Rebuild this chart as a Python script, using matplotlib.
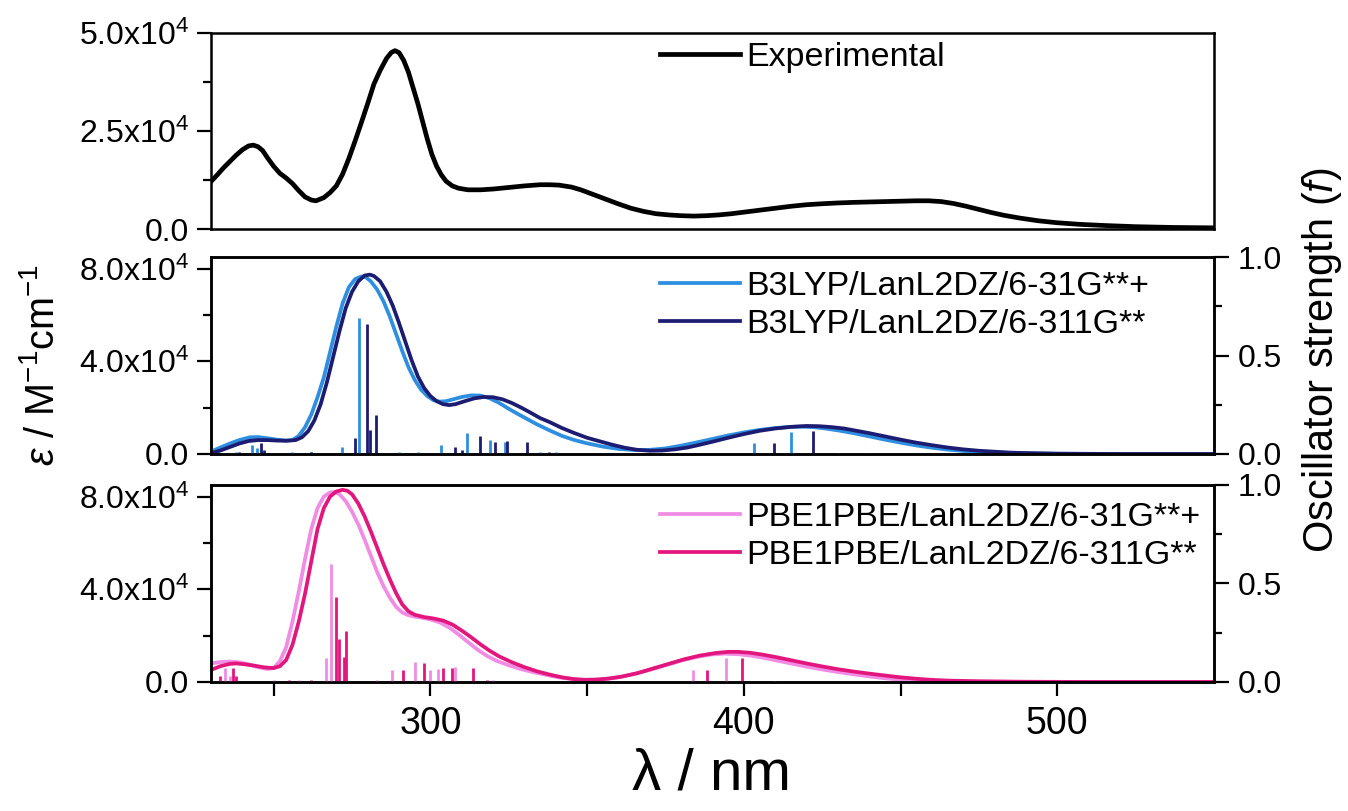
import matplotlib
matplotlib.use('Agg')
import matplotlib.pyplot as plt
from matplotlib.ticker import FixedLocator

plt.rcParams['font.family'] = ['Liberation Sans', 'DejaVu Sans']
plt.rcParams['mathtext.fontset'] = 'custom'
plt.rcParams['mathtext.rm'] = 'Liberation Sans'
plt.rcParams['mathtext.it'] = 'Liberation Sans:italic'

# === DATA =====================================================================
# experimental spectrum (epsilon in units of 1e4 M^-1 cm^-1)
expWl = [230, 232, 234, 236, 238, 240, 242, 243.5, 245, 246.5, 248, 250, 252, 254, 256,
         258, 260, 262, 263.5, 266, 268, 270, 272, 274, 276, 278, 280, 282, 284, 286,
         287.5, 288.7, 290, 291.5, 293, 294.5, 296, 297.5, 299, 300.5, 302, 303.5, 305, 307,
         309, 312, 316, 320, 325, 330, 335, 338, 341, 345, 348, 352, 356, 360, 364, 368,
         372, 376, 380, 384, 388, 392, 396, 400, 405, 410, 415, 420, 425, 430, 435, 440,
         445, 450, 455, 459, 463, 467, 471, 475, 479, 483, 488, 494, 500, 507, 515, 525,
         537, 550]
expEps = [1.21, 1.38, 1.56, 1.72, 1.88, 2.02, 2.12, 2.14, 2.1, 2.0, 1.82, 1.6, 1.42, 1.3, 1.16,
          0.98, 0.82, 0.74, 0.72, 0.8, 0.93, 1.1, 1.4, 1.8, 2.25, 2.72, 3.2, 3.7, 4.05, 4.35,
          4.5, 4.55, 4.5, 4.3, 4.0, 3.6, 3.2, 2.75, 2.3, 1.9, 1.6, 1.38, 1.22, 1.1,
          1.04, 1.0, 1.0, 1.02, 1.06, 1.1, 1.13, 1.13, 1.12, 1.07, 1.0, 0.88, 0.76, 0.64, 0.53, 0.45,
          0.39, 0.36, 0.34, 0.33, 0.34, 0.36, 0.39, 0.43, 0.48, 0.53, 0.58, 0.62, 0.645, 0.665, 0.68, 0.69,
          0.7, 0.71, 0.72, 0.72, 0.7, 0.65, 0.58, 0.5, 0.42, 0.35, 0.28, 0.21, 0.16, 0.12, 0.09, 0.06,
          0.04, 0.03]

# B3LYP/LanL2DZ/6-31G**+
b3aWl = [230, 233, 236, 239, 242.4, 245, 248, 251, 254, 256, 258, 260, 262, 264, 266, 268,
         270, 272, 274, 276, 278, 279.5, 281, 283, 285, 287, 289, 291, 293, 295, 297, 299,
         301, 303, 305, 307, 310, 313, 316, 319, 322, 325, 328, 331, 334, 338, 342, 346,
         350, 355, 360, 365, 370, 375, 380, 385, 390, 395, 400, 405, 410, 415, 418, 422,
         426, 430, 435, 440, 445, 450, 455, 460, 465, 470, 475, 480, 490, 500, 520, 550]
b3aEps = [0.1, 0.28, 0.45, 0.6, 0.72, 0.73, 0.68, 0.62, 0.58, 0.6, 0.78, 1.15, 1.7, 2.45, 3.3, 4.4,
          5.5, 6.5, 7.2, 7.55, 7.66, 7.62, 7.45, 7.1, 6.6, 5.95, 5.2, 4.45, 3.75, 3.2, 2.78, 2.5,
          2.32, 2.26, 2.28, 2.35, 2.46, 2.53, 2.52, 2.4, 2.2, 1.95, 1.72, 1.5, 1.28, 1.02, 0.78, 0.6,
          0.46, 0.32, 0.22, 0.17, 0.18, 0.24, 0.36, 0.5, 0.65, 0.8, 0.93, 1.04, 1.12, 1.17, 1.18, 1.16,
          1.1, 1.02, 0.9, 0.76, 0.62, 0.49, 0.37, 0.27, 0.19, 0.13, 0.09, 0.06, 0.03, 0.01, 0.0, 0.0]
# B3LYP/LanL2DZ/6-311G**
b3bWl = [230, 233, 236, 239, 242, 245, 248, 251, 254, 257, 259, 261, 263, 265, 267, 269,
         271, 273, 275, 277, 279, 280.7, 282, 284, 286, 288, 290, 292, 294, 296, 298, 300,
         302, 304, 306, 308, 311, 314, 317, 320, 323, 326, 329, 332, 335, 338, 342, 346,
         350, 354, 358, 362, 366, 370, 374, 378, 382, 386, 390, 395, 400, 405, 410, 415,
         420, 424, 428, 432, 436, 440, 445, 450, 455, 460, 465, 470, 475, 480, 485, 490,
         500, 520, 550]
b3bEps = [0.03, 0.15, 0.3, 0.45, 0.56, 0.6, 0.6, 0.58, 0.57, 0.6, 0.72, 0.98, 1.45, 2.15, 3.1, 4.2,
          5.3, 6.3, 7.0, 7.45, 7.7, 7.74, 7.68, 7.45, 7.0, 6.4, 5.65, 4.85, 4.05, 3.35, 2.85, 2.5,
          2.28, 2.15, 2.11, 2.15, 2.28, 2.4, 2.46, 2.45, 2.36, 2.2, 2.0, 1.78, 1.55, 1.38, 1.12, 0.9,
          0.7, 0.55, 0.4, 0.27, 0.18, 0.14, 0.15, 0.2, 0.28, 0.4, 0.53, 0.7, 0.86, 1.0, 1.1, 1.17,
          1.21, 1.2, 1.16, 1.1, 1.0, 0.9, 0.76, 0.62, 0.49, 0.38, 0.28, 0.2, 0.14, 0.1, 0.06, 0.04,
          0.015, 0.0, 0.0]

# PBE1PBE/LanL2DZ/6-31G**+
pbaWl = [230, 233, 236, 239, 242, 245, 248, 250, 252, 254, 256, 258, 260, 262, 264, 266,
         268, 269.5, 271, 273, 275, 277, 279, 281, 283, 285, 287, 289, 291, 293, 295, 297,
         300, 303, 306, 309, 312, 315, 318, 321, 325, 329, 333, 337, 341, 345, 348, 352,
         356, 360, 365, 370, 375, 380, 385, 390, 394, 398, 402, 406, 410, 415, 420, 425,
         430, 435, 440, 445, 450, 455, 460, 470, 490, 550]
pbaEps = [0.8, 0.86, 0.88, 0.85, 0.76, 0.64, 0.56, 0.6, 0.9, 1.5, 2.6, 3.9, 5.3, 6.6, 7.5, 8.0,
          8.18, 8.2, 8.1, 7.8, 7.35, 6.8, 6.15, 5.45, 4.75, 4.15, 3.65, 3.25, 3.0, 2.88, 2.82, 2.78,
          2.7, 2.57, 2.35, 2.05, 1.72, 1.4, 1.13, 0.92, 0.72, 0.55, 0.42, 0.3, 0.2, 0.13, 0.1, 0.1,
          0.13, 0.2, 0.34, 0.52, 0.72, 0.92, 1.08, 1.19, 1.22, 1.2, 1.14, 1.05, 0.94, 0.8, 0.66, 0.54,
          0.43, 0.33, 0.24, 0.16, 0.1, 0.06, 0.04, 0.02, 0.0, 0.0]
# PBE1PBE/LanL2DZ/6-311G**
pbbWl = [230, 233, 236, 238, 241, 244, 247, 250, 252, 254, 256, 258, 260, 262, 264, 266,
         268, 270, 272, 273.5, 275, 277, 279, 281, 283, 285, 287, 289, 291, 293, 295, 298,
         301, 304, 307, 310, 313, 316, 319, 322, 326, 330, 334, 338, 342, 346, 349, 353,
         357, 361, 366, 371, 376, 381, 386, 391, 395, 398, 402, 406, 410, 415, 420, 425,
         430, 435, 440, 445, 450, 455, 460, 465, 475, 490, 510, 550]
pbbEps = [0.52, 0.68, 0.78, 0.8, 0.76, 0.7, 0.63, 0.6, 0.68, 0.95, 1.6, 2.6, 3.8, 5.2, 6.6, 7.5,
          8.0, 8.22, 8.29, 8.25, 8.1, 7.7, 7.15, 6.5, 5.8, 5.1, 4.45, 3.85, 3.35, 3.05, 2.9, 2.8,
          2.74, 2.65, 2.48, 2.22, 1.93, 1.62, 1.34, 1.1, 0.85, 0.64, 0.46, 0.32, 0.2, 0.12, 0.09, 0.1,
          0.15, 0.23, 0.38, 0.58, 0.78, 0.98, 1.14, 1.25, 1.3, 1.3, 1.26, 1.18, 1.08, 0.94, 0.8, 0.67,
          0.55, 0.45, 0.36, 0.28, 0.2, 0.14, 0.09, 0.06, 0.03, 0.01, 0.0, 0.0]

# oscillator strengths (sticks)
b3aStickWl = [237.9, 243, 244.6, 256, 262, 271.7, 277.2, 290, 296, 303.3, 311.6, 319, 323.8,
              335, 340, 403.3, 414.9, 430, 440]
b3aStickF = [0.01, 0.046, 0.03, 0.01, 0.008, 0.037, 0.69, 0.01, 0.008, 0.046, 0.106, 0.07, 0.062,
             0.01, 0.008, 0.054, 0.113, 0.006, 0.005]
b3bStickWl = [239, 246, 247, 262, 275.9, 279.9, 280.7, 282.5, 307.8, 310, 315.8, 320.6, 324.4,
              330.7, 338, 409.7, 422.1, 433]
b3bStickF = [0.01, 0.054, 0.02, 0.008, 0.082, 0.66, 0.12, 0.2, 0.036, 0.02, 0.092, 0.06, 0.066,
             0.06, 0.008, 0.054, 0.118, 0.005]
pbaStickWl = [234.5, 236, 250, 258, 266.7, 268.3, 283, 287.9, 295, 299.9, 302.5, 307.8, 320,
              383.7, 394.2, 410]
pbaStickF = [0.07, 0.03, 0.01, 0.01, 0.12, 0.60, 0.01, 0.06, 0.103, 0.06, 0.067, 0.078, 0.01,
             0.061, 0.123, 0.006]
pbbStickWl = [233, 237.1, 238, 255, 262, 269.9, 271, 272.5, 273, 291.3, 298, 304.1, 306.8,
              313.5, 318, 388.3, 399.3, 415]
pbbStickF = [0.03, 0.07, 0.03, 0.01, 0.012, 0.43, 0.217, 0.128, 0.259, 0.06, 0.095, 0.07, 0.07,
             0.07, 0.01, 0.061, 0.123, 0.006]

labels = ['Experimental',
          'B3LYP/LanL2DZ/6-31G**+', 'B3LYP/LanL2DZ/6-311G**',
          'PBE1PBE/LanL2DZ/6-31G**+', 'PBE1PBE/LanL2DZ/6-311G**']
colors = ['black', '#2E8FE0', '#1C1C72', '#F08CE4', '#E2167C']


def sc(v):
    return [a * 1e4 for a in v]


# === PLOT RENDERING ===========================================================
fig = plt.figure(figsize=(13.48, 8.11), dpi=100)
L, W = 0.1565, 0.7441
axTop = fig.add_axes([L, 0.7176, W, 0.2417])
axMid = fig.add_axes([L, 0.4402, W, 0.2429])
axBot = fig.add_axes([L, 0.1591, W, 0.2429])


def styleLeft(ax, ymax, majors, ticklabels, minors):
    ax.set_xlim(230, 550)
    ax.set_ylim(0, ymax)
    ax.yaxis.set_major_locator(FixedLocator(majors))
    ax.set_yticklabels(ticklabels)
    ax.yaxis.set_minor_locator(FixedLocator(minors))
    ax.tick_params(axis='y', which='major', direction='out', length=10, width=1.6,
                   labelsize=23, pad=6)
    ax.tick_params(axis='y', which='minor', direction='out', length=5.5, width=1.6)
    for sp in ax.spines.values():
        sp.set_linewidth(1.8)


def styleRight(ax):
    tw = ax.twinx()
    tw.set_ylim(0, 1)
    tw.yaxis.set_major_locator(FixedLocator([0, 0.5, 1.0]))
    tw.set_yticklabels(['0.0', '0.5', '1.0'])
    tw.yaxis.set_minor_locator(FixedLocator([0.25, 0.75]))
    tw.tick_params(axis='y', which='major', direction='out', length=11, width=1.6,
                   labelsize=23, pad=6)
    tw.tick_params(axis='y', which='minor', direction='out', length=6, width=1.6)
    for sp in tw.spines.values():
        sp.set_linewidth(1.8)
    return tw


e4 = r'x10$^{4}$'
styleLeft(axTop, 5e4, [0, 2.5e4, 5e4], ['0.0', '2.5' + e4, '5.0' + e4], [1.25e4, 3.75e4])
styleLeft(axMid, 8.5e4, [0, 4e4, 8e4], ['0.0', '4.0' + e4, '8.0' + e4], [2e4, 6e4])
styleLeft(axBot, 8.5e4, [0, 4e4, 8e4], ['0.0', '4.0' + e4, '8.0' + e4], [2e4, 6e4])

for ax in (axTop, axMid):
    ax.tick_params(axis='x', which='both', bottom=False, labelbottom=False)
axBot.xaxis.set_major_locator(FixedLocator([300, 400, 500]))
axBot.xaxis.set_minor_locator(FixedLocator([250, 350, 450]))
axBot.tick_params(axis='x', which='major', direction='out', length=10, width=1.6,
                  labelsize=27, pad=7)
axBot.tick_params(axis='x', which='minor', direction='out', length=10, width=1.6)

twMid = styleRight(axMid)
twBot = styleRight(axBot)

# curves
axTop.plot(expWl, sc(expEps), color=colors[0], lw=3.4, label=labels[0])
l1, = axMid.plot(b3aWl, sc(b3aEps), color=colors[1], lw=2.7, label=labels[1])
l2, = axMid.plot(b3bWl, sc(b3bEps), color=colors[2], lw=2.7, label=labels[2])
l3, = axBot.plot(pbaWl, sc(pbaEps), color=colors[3], lw=2.7, label=labels[3])
l4, = axBot.plot(pbbWl, sc(pbbEps), color=colors[4], lw=2.7, label=labels[4])

# sticks
twMid.vlines(b3aStickWl, 0, b3aStickF, colors=colors[1], lw=2.0)
twMid.vlines(b3bStickWl, 0, b3bStickF, colors=colors[2], lw=2.0)
twBot.vlines(pbaStickWl, 0, pbaStickF, colors=colors[3], lw=2.0)
twBot.vlines(pbbStickWl, 0, pbbStickF, colors=colors[4], lw=2.0)

legKw = dict(frameon=False, fontsize=24.5, loc='upper left', borderpad=0, borderaxespad=0,
             handlelength=2.35, handletextpad=0.18, labelspacing=0.2)
axTop.legend(bbox_to_anchor=(0.4477, 0.955), **legKw)
twMid.legend(handles=[l1, l2], bbox_to_anchor=(0.4477, 0.93), **legKw)
twBot.legend(handles=[l3, l4], bbox_to_anchor=(0.4477, 0.915), **legKw)

fig.text(43 / 1348, 1 - 365 / 811, r'$\varepsilon$ / M$^{-1}$cm$^{-1}$', fontsize=28.5,
         rotation=90, ha='center', va='center')
fig.text(1322 / 1348, 1 - 360 / 811, r'Oscillator strength ($f$)', fontsize=30,
         rotation=90, ha='center', va='center')
fig.text(712 / 1348, 1 - 775 / 811, 'λ / nm', fontsize=42, ha='center', va='center')

plt.savefig('out.png', dpi=100)
